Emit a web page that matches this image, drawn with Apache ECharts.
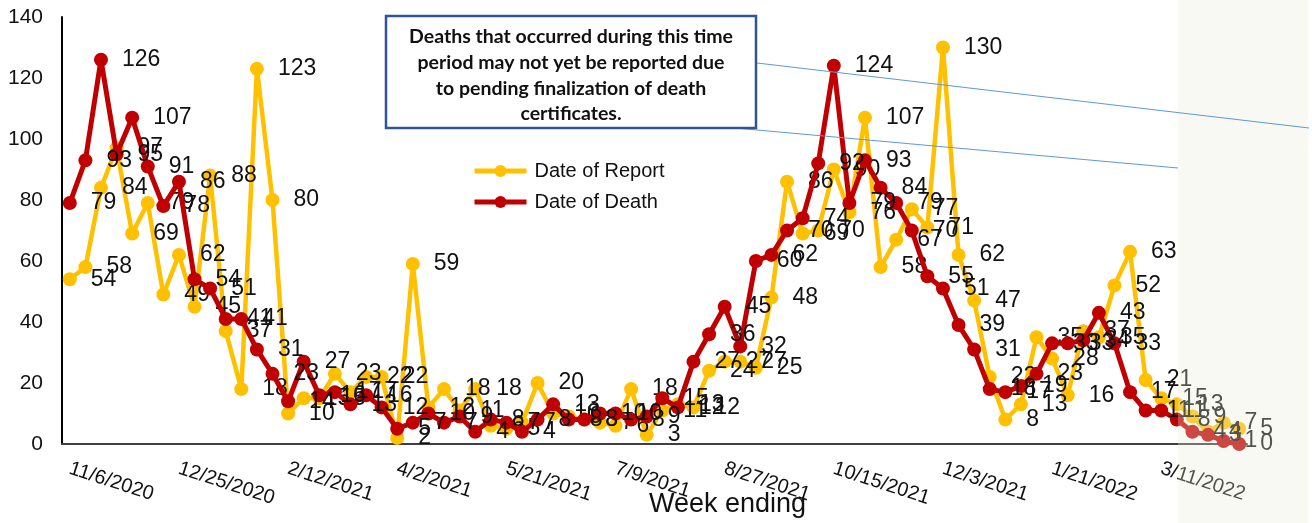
<!DOCTYPE html>
<html><head><meta charset="utf-8">
<script src="https://cdn.jsdelivr.net/npm/echarts@6/dist/echarts.min.js"></script>
<style>html,body{margin:0;padding:0;background:#fff}#c{width:1312px;height:523px}</style>
</head><body><div id="c"></div>
<script>
const categories = [
'11/6/2020','11/13/2020','11/20/2020','11/27/2020','12/4/2020','12/11/2020','12/18/2020','12/25/2020',
'1/1/2021','1/8/2021','1/15/2021','1/22/2021','1/29/2021','2/5/2021','2/12/2021','2/19/2021','2/26/2021',
'3/5/2021','3/12/2021','3/19/2021','3/26/2021','4/2/2021','4/9/2021','4/16/2021','4/23/2021','4/30/2021',
'5/7/2021','5/14/2021','5/21/2021','5/28/2021','6/4/2021','6/11/2021','6/18/2021','6/25/2021','7/2/2021',
'7/9/2021','7/16/2021','7/23/2021','7/30/2021','8/6/2021','8/13/2021','8/20/2021','8/27/2021','9/3/2021',
'9/10/2021','9/17/2021','9/24/2021','10/1/2021','10/8/2021','10/15/2021','10/22/2021','10/29/2021',
'11/5/2021','11/12/2021','11/19/2021','11/26/2021','12/3/2021','12/10/2021','12/17/2021','12/24/2021',
'12/31/2021','1/7/2022','1/14/2022','1/21/2022','1/28/2022','2/4/2022','2/11/2022','2/18/2022',
'2/25/2022','3/4/2022','3/11/2022','3/18/2022','3/25/2022','4/1/2022','4/8/2022','4/15/2022'];

const dateOfReport = [
54,58,84,97,69,79,49,62,45,88,37,18,123,80,10,15,15,23,17,22,
22,2,59,12,18,11,18,6,5,7,20,10,9,8,7,6,18,3,11,13,
12,24,27,27,25,48,86,69,70,90,76,107,58,67,77,71,130,62,47,22,
8,13,35,28,16,37,35,52,63,21,15,13,9,4,7,5];

const dateOfDeath = [
79,93,126,95,107,91,78,86,54,51,41,41,31,23,14,27,16,17,13,16,
12,5,7,10,7,9,4,8,7,4,8,13,8,8,10,10,8,9,15,12,
27,36,45,32,60,62,70,74,92,124,79,93,84,79,70,55,51,39,31,18,
17,19,23,33,33,34,43,33,17,11,11,8,4,3,1,0];

const yTicks = [0, 20, 40, 60, 80, 100, 120, 140];

const chart = echarts.init(document.getElementById('c'), null, {renderer: 'canvas'});
const FONT = 'Liberation Sans, Arial, sans-serif';

const labelStyle = {
  show: true, position: 'right', distance: 14,
  fontFamily: FONT, fontSize: 23, color: '#111'
};

chart.setOption({
  animation: false,
  backgroundColor: '#ffffff',
  grid: {left: 62, right: 65, top: 17, bottom: 79, containLabel: false, outerBoundsMode: 'none'},
  legend: {
    orient: 'vertical', left: 467, top: 156, itemWidth: 52, itemHeight: 15, itemGap: 11,
    lineStyle: {width: 5},
    textStyle: {fontFamily: FONT, fontSize: 20, color: '#111', padding: [0,0,0,3]},
    data: ['Date of Report', 'Date of Death']
  },
  xAxis: {
    type: 'category', data: categories, boundaryGap: true,
    axisLine: {lineStyle: {color: '#404040', width: 2}},
    axisTick: {show: false},
    axisLabel: {interval: 6, rotate: -18, margin: 24, fontFamily: FONT, fontSize: 20, color: '#111'},
    name: 'Week ending', nameLocation: 'middle', nameGap: 47, nameMoveOverlap: false,
    nameTextStyle: {fontFamily: FONT, fontSize: 27, color: '#111', padding: [0,0,0,146]}
  },
  yAxis: {
    type: 'value', min: yTicks[0], max: yTicks[yTicks.length-1], interval: 20,
    axisLine: {show: true, lineStyle: {color: '#000', width: 2}},
    axisTick: {show: false}, splitLine: {show: false},
    axisLabel: {margin: 19, fontFamily: FONT, fontSize: 21, color: '#111'}
  },
  series: [
    {
      name: 'Date of Report', type: 'line', data: dateOfReport,
      symbol: 'circle', symbolSize: 14, showAllSymbol: true,
      lineStyle: {color: '#FFC000', width: 4.5},
      itemStyle: {color: '#FFC000'},
      label: labelStyle, z: 2
    },
    {
      name: 'Date of Death', type: 'line', data: dateOfDeath,
      symbol: 'circle', symbolSize: 14, showAllSymbol: true,
      lineStyle: {color: '#C00000', width: 5},
      itemStyle: {color: '#C00000'},
      label: labelStyle, z: 3
    }
  ],
  graphic: [
    {type: 'rect', shape: {x: 1178, y: 0, width: 130, height: 523}, style: {fill: 'rgba(235,235,220,0.3)'}, z: 100, silent: true},
    {type: 'line', shape: {x1: 757, y1: 63, x2: 1309, y2: 128}, style: {stroke: '#5B9BD5', lineWidth: 1}, z: 101},
    {type: 'line', shape: {x1: 735, y1: 128, x2: 1178, y2: 168}, style: {stroke: '#5B9BD5', lineWidth: 1}, z: 101},
    {type: 'rect', shape: {x: 386, y: 16, width: 370, height: 112}, style: {fill: '#fff', stroke: '#2F5597', lineWidth: 2.5}, z: 102},
    {type: 'text', x: 571, y: 24, z: 103,
      style: {
        text: 'Deaths that occurred during this time\nperiod may not yet be reported due\nto pending finalization of death\ncertificates.',
        align: 'center', verticalAlign: 'top',
        font: 'bold 19.5px Lato, Carlito, sans-serif', lineHeight: 25.7, fill: '#111'
      }
    }
  ]
});
</script></body></html>
